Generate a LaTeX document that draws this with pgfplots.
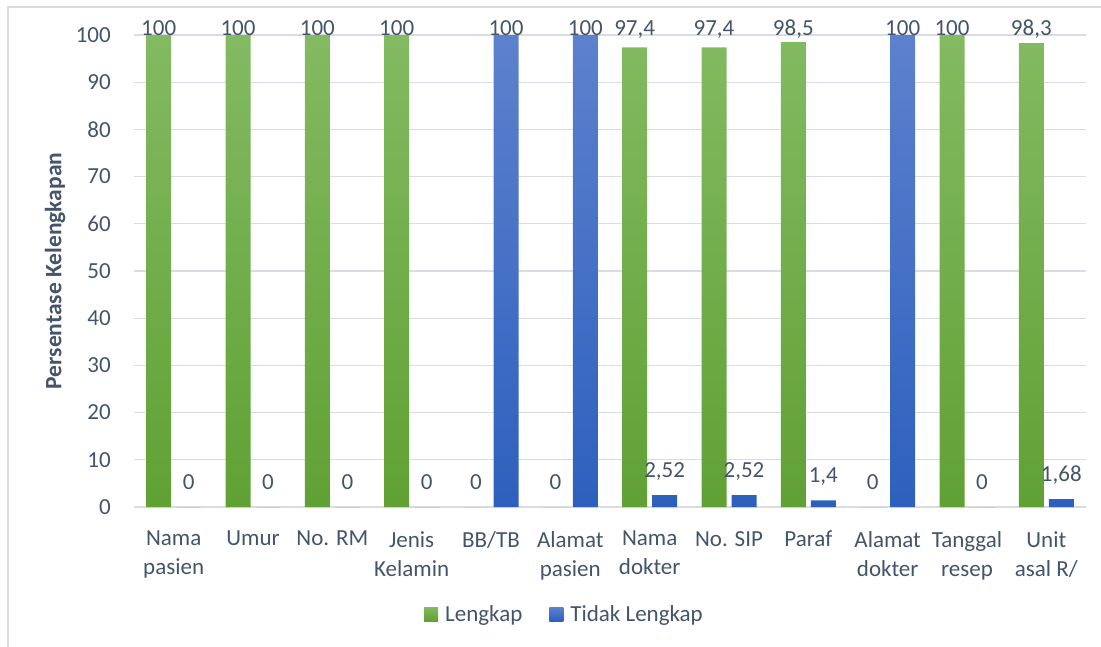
\documentclass[border=0pt]{standalone}
\usepackage{pgfplots}
\pgfplotsset{compat=1.18}
\usepackage{fontspec}
\setmainfont{Carlito}
\definecolor{txt}{RGB}{68,84,106}
\definecolor{gridc}{RGB}{217,221,226}
\definecolor{gtop}{RGB}{131,186,98}
\definecolor{gbot}{RGB}{96,161,52}
\definecolor{btop}{RGB}{93,129,205}
\definecolor{bbot}{RGB}{45,96,190}
\begin{document}
\begin{tikzpicture}
\useasboundingbox (0,0) rectangle (1101bp,-647bp);
\draw[gridc, line width=1.5bp] (8bp,-700bp) -- (8bp,-7bp) -- (1150bp,-7bp);
\begin{axis}[
  at={(134bp,-507bp)}, anchor=south west,
  scale only axis, width=952bp, height=472bp,
  ybar=5bp, bar width=25bp,
  xmin=-0.5, xmax=11.5, ymin=0, ymax=100,
  ytick={0,10,...,100},
  xtick={0,...,11},
  xticklabels={{Nama\\pasien},{Umur},{No. RM},{Jenis\\Kelamin},{BB/TB},{Alamat\\pasien},{Nama\\dokter},{No. SIP},{Paraf},{Alamat\\dokter},{Tanggal\\resep},{Unit\\asal R/}},
  axis line style={draw=none},
  major tick length=0pt,
  ymajorgrids, grid style={gridc, line width=1.2bp},
  clip=false,
  /pgf/number format/assume math mode=true,
  tick label style={font=\fontsize{23bp}{29bp}\selectfont, text=txt},
  xticklabel style={align=center, inner sep=0pt, anchor=north, yshift=-24bp},
  yticklabel style={anchor=east, inner sep=0pt, xshift=-23bp},
  ylabel={\textbf{Persentase Kelengkapan}},
  every axis y label/.style={at={(0,0.5)}, xshift=-79bp, rotate=90, anchor=center,
    font=\fontsize{23.5bp}{28bp}\selectfont, text=txt},
  visualization depends on=y \as \rawy,
  nodes near coords={\pgfmathprintnumber[use comma, fixed, precision=2, assume math mode=true]{\pgfplotspointmeta}},
  every node near coord/.append style={font=\fontsize{23bp}{28bp}\selectfont, text=txt, anchor=base, inner sep=0pt, yshift={min(18,(100-\rawy)*4.72)}},
  legend style={at={(0.4517,-0.2267)}, anchor=center, draw=none, fill=none,
    legend columns=2, font=\fontsize{23bp}{28bp}\selectfont, text=txt,
    /tikz/every even column/.append style={column sep=26bp},
    /tikz/every odd column/.append style={column sep=6bp},
    nodes={inner sep=1bp}},
  legend image code/.code={\path[#1, draw=none] (0bp,-7bp) rectangle (14bp,7bp);},
]
\addplot[draw=none, top color=gtop, bottom color=gbot] coordinates {
(0,100) (1,100) (2,100) (3,100) (4,0) (5,0) (6,97.4) (7,97.4) (8,98.5) (9,0) (10,100) (11,98.3)};
\addlegendentry{Lengkap}
\addplot[draw=none, top color=btop, bottom color=bbot] coordinates {
(0,0) (1,0) (2,0) (3,0) (4,100) (5,100) (6,2.52) (7,2.52) (8,1.4) (9,100) (10,0) (11,1.68)};
\addlegendentry{Tidak Lengkap}
\end{axis}
\end{tikzpicture}
\end{document}
